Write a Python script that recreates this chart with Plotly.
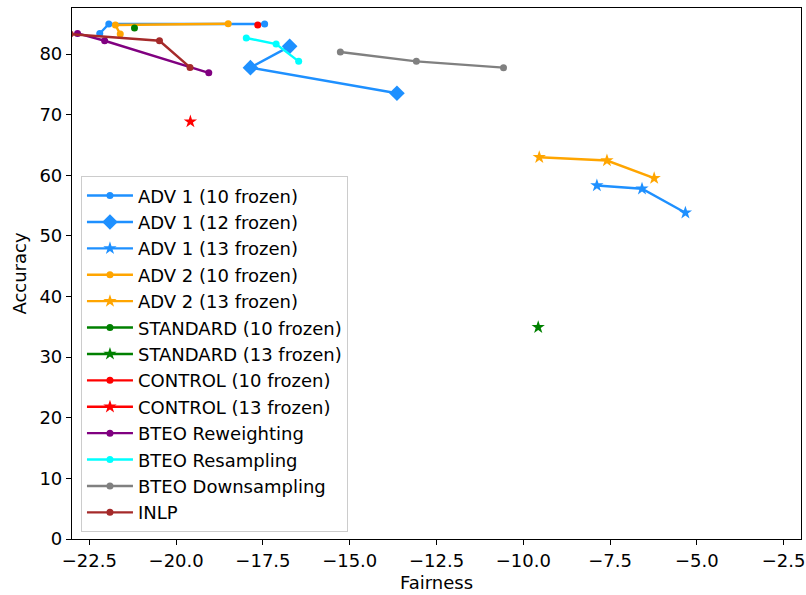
import plotly.graph_objects as go

# ---- data (Fairness, Accuracy) ----
adv1_10_x = [-22.20, -21.94, -17.45]
adv1_10_y = [83.4, 84.96, 84.96]
adv1_12_x = [-16.73, -17.86, -13.64]
adv1_12_y = [81.27, 77.76, 73.53]
adv1_13_x = [-7.88, -6.58, -5.33]
adv1_13_y = [58.32, 57.78, 53.82]
adv2_10_x = [-21.61, -21.75, -18.50]
adv2_10_y = [83.3, 84.8, 85.0]
adv2_13_x = [-9.54, -7.59, -6.23]
adv2_13_y = [62.98, 62.44, 59.52]
std_10_x = [-21.20]
std_10_y = [84.3]
std_13_x = [-9.57]
std_13_y = [34.93]
ctrl_10_x = [-17.65]
ctrl_10_y = [84.8]
ctrl_13_x = [-19.59]
ctrl_13_y = [68.86]
rew_x = [-22.84, -22.06, -19.06]
rew_y = [83.4, 82.2, 76.9]
res_x = [-17.98, -17.12, -16.47]
res_y = [82.65, 81.66, 78.8]
down_x = [-15.27, -13.08, -10.57]
down_y = [80.35, 78.8, 77.76]
inlp_x = [-23.05, -20.48, -19.60]
inlp_y = [83.3, 82.2, 77.8]

x_tickvals = [-22.5, -20.0, -17.5, -15.0, -12.5, -10.0, -7.5, -5.0, -2.5]
x_ticktext = ["\u221222.5", "\u221220.0", "\u221217.5", "\u221215.0", "\u221212.5",
              "\u221210.0", "\u22127.5", "\u22125.0", "\u22122.5"]
y_tickvals = [0, 10, 20, 30, 40, 50, 60, 70, 80]

series = [
    ("ADV 1 (10 frozen)", adv1_10_x, adv1_10_y, "#1E90FF", "circle", 7),
    ("ADV 1 (12 frozen)", adv1_12_x, adv1_12_y, "#1E90FF", "diamond", 12),
    ("ADV 1 (13 frozen)", adv1_13_x, adv1_13_y, "#1E90FF", "star", 10),
    ("ADV 2 (10 frozen)", adv2_10_x, adv2_10_y, "#FFA500", "circle", 7),
    ("ADV 2 (13 frozen)", adv2_13_x, adv2_13_y, "#FFA500", "star", 10),
    ("STANDARD (10 frozen)", std_10_x, std_10_y, "#008000", "circle", 7),
    ("STANDARD (13 frozen)", std_13_x, std_13_y, "#008000", "star", 10),
    ("CONTROL (10 frozen)", ctrl_10_x, ctrl_10_y, "#FF0000", "circle", 7),
    ("CONTROL (13 frozen)", ctrl_13_x, ctrl_13_y, "#FF0000", "star", 10),
    ("BTEO Reweighting", rew_x, rew_y, "#800080", "circle", 7),
    ("BTEO Resampling", res_x, res_y, "#00FFFF", "circle", 7),
    ("BTEO Downsampling", down_x, down_y, "#808080", "circle", 7),
    ("INLP", inlp_x, inlp_y, "#A52A2A", "circle", 7),
]

fig = go.Figure()
for name, xs, ys, col, sym, sz in series:
    fig.add_trace(go.Scatter(
        x=xs, y=ys, name=name, mode="lines+markers",
        line=dict(color=col, width=2.4),
        marker=dict(color=col, symbol=sym, size=sz, line=dict(width=0)),
    ))

font = "DejaVu Sans"
fs = 18
fig.update_layout(
    width=806, height=595,
    margin=dict(l=72, r=5, t=8, b=56),
    paper_bgcolor="white", plot_bgcolor="white",
    font=dict(family=font, size=fs, color="black"),
    showlegend=True,
    legend=dict(
        x=0.0123, y=0.683, xanchor="left", yanchor="top",
        bgcolor="rgba(255,255,255,0.8)", bordercolor="#cccccc", borderwidth=1,
        font=dict(family=font, size=fs, color="black"),
        tracegroupgap=0, itemwidth=46,
    ),
    xaxis=dict(
        range=[-23, -2], tickvals=x_tickvals, ticktext=x_ticktext,
        showgrid=False, zeroline=False, showline=True, mirror=True,
        linecolor="black", linewidth=1.2, ticks="outside", ticklen=5,
        tickwidth=1.2, tickcolor="black", automargin=False,
        title=dict(text="Fairness", standoff=6, font=dict(size=fs)),
        tickfont=dict(size=fs),
    ),
    yaxis=dict(
        range=[0, 87.6], tickvals=y_tickvals,
        showgrid=False, zeroline=False, showline=True, mirror=True,
        linecolor="black", linewidth=1.2, ticks="outside", ticklen=5,
        tickwidth=1.2, tickcolor="black", automargin=False,
        title=dict(text="Accuracy", standoff=8, font=dict(size=fs)),
        tickfont=dict(size=fs),
    ),
)

fig.write_html("out.html",
               config={"displayModeBar": False},
               post_script="document.body.style.margin='0';document.body.style.overflow='hidden';")
